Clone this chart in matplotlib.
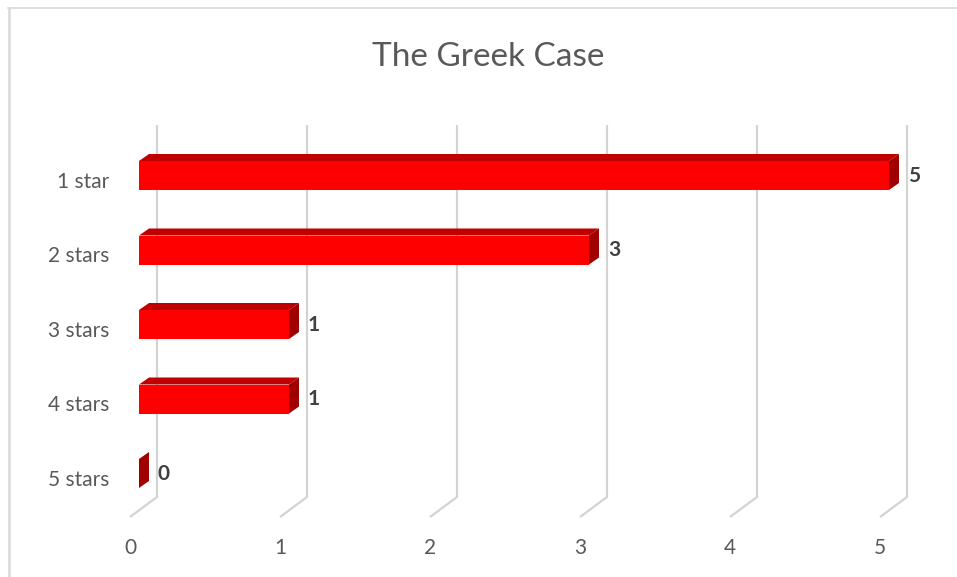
import matplotlib.pyplot as plt
from matplotlib.patches import Polygon
from matplotlib.lines import Line2D

categories = ["1 star", "2 stars", "3 stars", "4 stars", "5 stars"]
counts = [5, 3, 1, 1, 0]
x_ticks = [0, 1, 2, 3, 4, 5]
title = "The Greek Case"

FRONT = "#ff0000"
TOP = "#c00000"
SIDE = "#a00000"
GRID = "#d3d3d3"
TEXT = "#595959"

W, H = 957, 577
fig = plt.figure(figsize=(W / 100, H / 100), dpi=100)
ax = fig.add_axes([0, 0, 1, 1])
# value 0 sits at x=139 px, one unit = 150 px; category rows 74.5 px apart
ax.set_xlim(-139 / 150, (W - 139) / 150)
ax.set_ylim((H - 175.5) / 74.5, -175.5 / 74.5)
ax.axis("off")

# 3d offsets in data units
bar_dx, bar_dy = 10 / 150, -7 / 74.5
half = 14.5 / 74.5
wall_dx = 18 / 150
floor_dx = -9 / 150
wall_top = (125 - 175.5) / 74.5
wall_bot = (497 - 175.5) / 74.5
floor_y = (517 - 175.5) / 74.5

# gridlines: back wall + floor
for v in x_ticks:
    ax.plot([v + wall_dx, v + wall_dx, v + floor_dx],
            [wall_top, wall_bot, floor_y],
            color=GRID, lw=1.6, zorder=1, solid_capstyle="butt")
    ax.text(v + floor_dx, (548 - 175.5) / 74.5, str(v), ha="center", va="center",
            fontsize=15, color=TEXT, family="Lato")

for i, (cat, v) in enumerate(zip(categories, counts)):
    top, bot = i - half, i + half
    ax.add_patch(Polygon([(0, top), (v, top), (v, bot), (0, bot)],
                         closed=True, fc=FRONT, ec="none", zorder=3))
    ax.add_patch(Polygon([(0, top), (v, top), (v + bar_dx, top + bar_dy), (bar_dx, top + bar_dy)],
                         closed=True, fc=TOP, ec="none", zorder=3))
    ax.add_patch(Polygon([(v, top), (v + bar_dx, top + bar_dy), (v + bar_dx, bot + bar_dy), (v, bot)],
                         closed=True, fc=SIDE, ec="none", zorder=3))
    ax.text(v + bar_dx + 0.06, i, str(v), ha="left", va="center",
            fontsize=15, fontweight="bold", color="#404040", family="Lato", zorder=4)
    ax.text(-0.2, i + 0.087, cat, ha="right", va="center",
            fontsize=15, color=TEXT, family="Lato")

fig.text(488 / W, 1 - 57 / H, title, ha="center", va="center",
         fontsize=24, color=TEXT, family="Lato")

# chart border (only top and left visible)
fig.add_artist(Line2D([8 / W, 1], [1 - 8 / H, 1 - 8 / H], color="#d9d9d9", lw=1.2))
fig.add_artist(Line2D([9 / W, 9 / W], [0, 1 - 8 / H], color="#d9d9d9", lw=1.8))

fig.savefig("out.png", dpi=100)
